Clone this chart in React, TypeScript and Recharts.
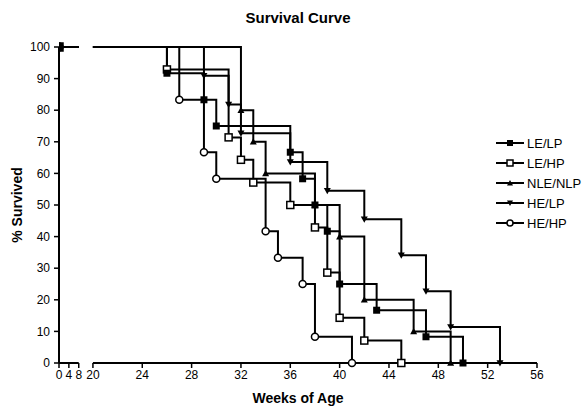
import React from "react";
import { LineChart, Line, XAxis, YAxis, ReferenceLine } from "recharts";

const FONT = '"Liberation Sans", Arial, Helvetica, sans-serif';

// weeks of age at each death, and % survived after it
const leLpWeeks = [0, 26, 29, 30, 36, 37, 38, 39, 40, 43, 47, 50];
const leLpSurv = [100, 91.7, 83.3, 75, 66.7, 58.3, 50, 41.7, 25, 16.7, 8.3, 0];

const leHpWeeks = [0, 26, 31, 32, 33, 36, 38, 39, 40, 42, 45];
const leHpSurv = [100, 92.9, 71.4, 64.3, 57.1, 50, 42.9, 28.6, 14.3, 7.1, 0];

const nleNlpWeeks = [0, 32, 33, 34, 38, 40, 42, 46, 49];
const nleNlpSurv = [100, 80, 70, 60, 50, 40, 20, 10, 0];

const heLpWeeks = [0, 29, 31, 32, 36, 39, 42, 45, 47, 49, 53];
const heLpSurv = [100, 90.9, 81.8, 72.7, 63.6, 54.5, 45.5, 34.1, 22.7, 11.4, 0];

const heHpWeeks = [0, 27, 29, 30, 34, 35, 37, 38, 41];
const heHpSurv = [100, 83.3, 66.7, 58.3, 41.7, 33.3, 25, 8.3, 0];

const xTickWeeks = [0, 4, 8, 20, 24, 28, 32, 36, 40, 44, 48, 52, 56];
const yTicks = [0, 10, 20, 30, 40, 50, 60, 70, 80, 90, 100];

// broken x axis: 0-8 squeezed in front of 20-56
const BREAK_LO = 8;
const BREAK_HI = 20;
const AXIS_START = 17.25;
const AXIS_END = 56;
const toAxis = (w: number) => (w <= BREAK_LO ? AXIS_START + w * 0.2 : w);

type Shape = "square" | "openSquare" | "triangle" | "invTriangle" | "openCircle";

function buildPoints(weeks: number[], surv: number[]) {
  const pts: { x: number; y: number | null; mark: boolean }[] = [];
  pts.push({ x: toAxis(weeks[0]), y: surv[0], mark: true });
  pts.push({ x: toAxis(BREAK_LO), y: surv[0], mark: false });
  pts.push({ x: (toAxis(BREAK_LO) + BREAK_HI) / 2, y: null, mark: false });
  pts.push({ x: BREAK_HI, y: surv[0], mark: false });
  for (let i = 1; i < weeks.length; i++) {
    pts.push({ x: toAxis(weeks[i]), y: surv[i], mark: true });
  }
  return pts;
}

const series: { name: string; shape: Shape; data: ReturnType<typeof buildPoints> }[] = [
  { name: "LE/LP", shape: "square", data: buildPoints(leLpWeeks, leLpSurv) },
  { name: "LE/HP", shape: "openSquare", data: buildPoints(leHpWeeks, leHpSurv) },
  { name: "NLE/NLP", shape: "triangle", data: buildPoints(nleNlpWeeks, nleNlpSurv) },
  { name: "HE/LP", shape: "invTriangle", data: buildPoints(heLpWeeks, heLpSurv) },
  { name: "HE/HP", shape: "openCircle", data: buildPoints(heHpWeeks, heHpSurv) },
];

function Marker({ shape, cx, cy, s }: { shape: Shape; cx: number; cy: number; s: number }) {
  const h = s / 2;
  switch (shape) {
    case "square":
      return <rect x={cx - h} y={cy - h} width={s} height={s} fill="#000" />;
    case "openSquare":
      return (
        <rect x={cx - h} y={cy - h} width={s} height={s} fill="#fff" stroke="#000" strokeWidth={1.5} />
      );
    case "triangle":
      return <polygon points={`${cx - h},${cy + h * 0.8} ${cx + h},${cy + h * 0.8} ${cx},${cy - h}`} fill="#000" />;
    case "invTriangle":
      return <polygon points={`${cx - h},${cy - h * 0.8} ${cx + h},${cy - h * 0.8} ${cx},${cy + h}`} fill="#000" />;
    default:
      return <circle cx={cx} cy={cy} r={h} fill="#fff" stroke="#000" strokeWidth={1.5} />;
  }
}

function Legend() {
  return (
    <div style={{ position: "absolute", left: 496, top: 133, fontFamily: FONT, fontSize: 13, color: "#000" }}>
      {series.map((s) => (
        <div key={s.name} style={{ display: "flex", alignItems: "center", height: 20 }}>
          <svg width={28} height={12}>
            <line x1={0} y1={6} x2={28} y2={6} stroke="#000" strokeWidth={2} />
            <Marker shape={s.shape} cx={14} cy={6} s={6} />
          </svg>
          <span style={{ marginLeft: 3 }}>{s.name}</span>
        </div>
      ))}
    </div>
  );
}

export default function App() {
  const drawOrder = [...series].reverse();
  return (
    <div style={{ position: "absolute", left: 0, top: 0, width: 587, height: 410, background: "#fff" }}>
      <div
        style={{
          position: "absolute",
          left: 59,
          top: 9,
          width: 478,
          textAlign: "center",
          fontFamily: FONT,
          fontWeight: "bold",
          fontSize: 15,
        }}
      >
        Survival Curve
      </div>
      <LineChart width={587} height={410} margin={{ top: 47, right: 50, bottom: 0, left: 0 }}>
        <XAxis
          type="number"
          dataKey="x"
          domain={[AXIS_START, AXIS_END]}
          ticks={xTickWeeks.map(toAxis)}
          interval={0}
          allowDataOverflow
          tickFormatter={(v: number, i: number) => String(xTickWeeks[i])}
          axisLine={false}
          tickLine={{ stroke: "#000", strokeWidth: 1.5 }}
          tickSize={5}
          tickMargin={2}
          height={47}
          tick={{ fill: "#000", fontSize: 12, fontFamily: FONT }}
          label={{
            value: "Weeks of Age",
            position: "insideBottom",
            offset: 7,
            fill: "#000",
            fontSize: 14,
            fontWeight: "bold",
            fontFamily: FONT,
          }}
        />
        <YAxis
          type="number"
          domain={[0, 100]}
          ticks={yTicks}
          interval={0}
          width={59}
          axisLine={{ stroke: "#000", strokeWidth: 2 }}
          tickLine={{ stroke: "#000", strokeWidth: 1.5 }}
          tickSize={5}
          tickMargin={4}
          tick={{ fill: "#000", fontSize: 12, fontFamily: FONT }}
          label={{
            value: "% Survived",
            angle: -90,
            position: "insideLeft",
            offset: 17,
            style: { textAnchor: "middle" },
            fill: "#000",
            fontSize: 14,
            fontWeight: "bold",
            fontFamily: FONT,
          }}
        />
        <ReferenceLine
          segment={[
            { x: toAxis(0), y: 0 },
            { x: toAxis(BREAK_LO), y: 0 },
          ]}
          stroke="#000"
          strokeWidth={2}
        />
        <ReferenceLine
          segment={[
            { x: BREAK_HI, y: 0 },
            { x: AXIS_END, y: 0 },
          ]}
          stroke="#000"
          strokeWidth={2}
        />
        {drawOrder.map((s) => (
          <Line
            key={s.name}
            name={s.name}
            data={s.data}
            dataKey="y"
            type="stepAfter"
            stroke="#000"
            strokeWidth={2}
            connectNulls={false}
            isAnimationActive={false}
            activeDot={false}
            dot={(p: any) =>
              p.payload && p.payload.mark && p.cy != null ? (
                <Marker key={`${s.name}-${p.index}`} shape={s.shape} cx={p.cx} cy={p.cy} s={p.index === 0 ? 8 : 7} />
              ) : (
                <g key={`${s.name}-${p.index}`} />
              )
            }
          />
        ))}
      </LineChart>
      <Legend />
    </div>
  );
}
